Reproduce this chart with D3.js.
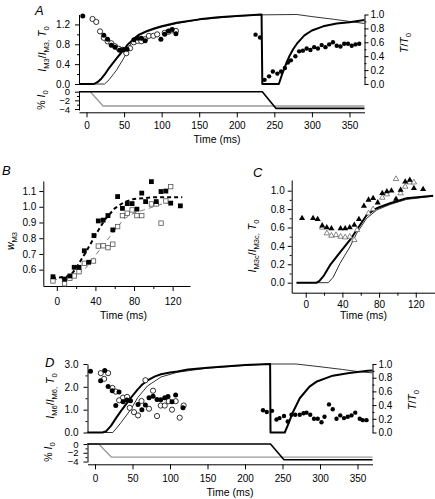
<!DOCTYPE html>
<html><head><meta charset="utf-8">
<script src="https://cdn.jsdelivr.net/npm/d3@7"></script>
<style>
body{margin:0;background:#fff;}
svg{display:block;font-family:"Liberation Sans",Arial,Helvetica,sans-serif;}
</style></head><body>
<svg id="c" width="435" height="499"></svg>
<script>
// ---------- Panel A ----------
const aThickT = [-10,10,15,20,25,30,40,50,55,60,65,70,80,90,100,120,150,175,200,233,234,256,260,265,270,275,280,290,300,315,333,350,370];
const aThickV = [0,0,0.03,0.08,0.15,0.23,0.37,0.5,0.57,0.62,0.67,0.71,0.76,0.8,0.83,0.88,0.93,0.96,0.98,1.0,0,0,0.13,0.27,0.4,0.5,0.58,0.7,0.77,0.83,0.87,0.89,0.92];
const aThinT = [-10,24,30,40,50,55,60,65,70,80,100,120,150,200,233,280,300,330,350,370];
const aThinV = [0,0,0.06,0.2,0.38,0.49,0.6,0.66,0.7,0.75,0.82,0.87,0.925,0.975,0.995,1.0,0.97,0.93,0.9,0.87];
const aOpenT = [8,13,18,23,28,33,38,43,48,53,58,63,68,73,78,83,89,94,104,109,114,119];
const aOpenV = [1.31,1.25,1.06,0.93,0.86,0.82,0.76,0.71,0.69,0.62,0.72,0.84,0.87,0.86,0.9,0.97,0.97,1.0,1.03,1.05,1.08,1.07];
const aFillT = [-5,23,28,33,38,44,49,54,63,68,73,78,99,104,109,114,119];
const aFillV = [1.37,0.98,0.9,0.78,0.74,0.68,0.69,0.7,0.89,0.92,0.92,0.87,0.9,1.0,1.07,1.1,1.01];
const aFill2T = [225,231,237,243,248,254,259,264,268,272,278,283,288,293,298,303,308,313,318,323,328,333,338,343,348,353,358,363];
const aFill2V = [0.71,0.67,0.06,0.11,0.18,0.15,0.18,0.23,0.31,0.34,0.40,0.47,0.48,0.51,0.49,0.53,0.51,0.56,0.53,0.57,0.60,0.55,0.54,0.58,0.58,0.55,0.57,0.58];
const aStepT = [-10,234,252,370];
const aStepV = [0,0,-3.85,-3.85];
const aRampT = [-10,5,22,370];
const aRampV = [0,0,-3.3,-3.3];
// ---------- Panel B ----------
const bFillT = [-4,8,13.5,18,23,28.5,33,38.5,43,48,53,58,63,68,73,78,83,88,92,98,103,108,113,118,128];
const bFillV = [0.555,0.54,0.56,0.615,0.615,0.72,0.647,0.817,0.91,0.915,0.944,0.853,1.065,0.99,1.02,1.02,0.985,1.087,1.033,1.16,1.033,1.097,1.1,1.023,1.006];
const bOpenT = [-4,8,13.5,18,23,28.5,38,43,48,53,58,63,68,73,78,83,88,98,103,108,113,118];
const bOpenV = [0.528,0.51,0.545,0.56,0.587,0.64,0.655,0.75,0.752,0.74,0.762,0.874,0.944,0.959,0.98,0.944,0.944,1.018,1.018,0.896,1.037,1.128];
const bThickT = [-5,10,15,20,30,40,50,60,70,80,100,130];
const bThickV = [0.545,0.555,0.57,0.61,0.71,0.82,0.92,0.99,1.03,1.05,1.06,1.06];
const bThinT = [-5,10,20,30,40,50,60,70,80,90,100,110,120];
const bThinV = [0.535,0.545,0.565,0.61,0.69,0.77,0.85,0.925,0.96,0.98,1.0,1.02,1.03];
// ---------- Panel C ----------
const cFillT = [-4,8,13,18,23,28,38,43,48,53,58,63.5,68.5,73.5,78.5,83.5,88.5,93.5,98.5,103.5,108.5,113.5,118,128];
const cFillV = [0.70,0.70,0.69,0.62,0.60,0.59,0.59,0.59,0.60,0.627,0.69,0.834,0.90,0.917,0.87,0.972,0.99,1.0,0.91,1.008,1.098,1.116,1.026,1.015];
const cOpenT = [18,23,28,33,38,43,48,53,56,68.5,73.5,83.5,88.5,98.5,103.5,108.5,113.5,118];
const cOpenV = [0.6,0.537,0.511,0.518,0.5,0.493,0.5,0.464,0.573,0.754,0.798,0.924,0.961,1.127,0.972,1.044,1.09,1.09];
const cThickT = [-10,12,15,20,26.5,37.4,48.3,55.6,66.5,77.4,92,110,139];
const cThickV = [0,0,0.02,0.08,0.19,0.33,0.464,0.573,0.736,0.809,0.863,0.917,0.946];
const cThinT = [-10,24.7,30,37.4,48.3,55.6,66.5,77.4,92,110,139];
const cThinV = [0,0,0.06,0.21,0.39,0.537,0.7,0.79,0.85,0.905,0.94];
// ---------- Panel D ----------
const dThickT = [-10,10,15,21.5,28,35,42,48,57,63,70,80,88,100,110,124,150,200,233.5,234,253,258,264,273,286,295,317,339,364,370];
const dThickV = [0,0,0.02,0.1,0.21,0.32,0.42,0.51,0.63,0.7,0.76,0.82,0.85,0.875,0.89,0.92,0.945,0.985,1.0,0,0,0.13,0.3,0.5,0.67,0.74,0.83,0.87,0.9,0.905];
const dThinT = [-10,23.7,30,35,48,57,70,88,110,150,200,233,268,300,330,350,370];
const dThinV = [0,0,0.08,0.15,0.34,0.51,0.68,0.81,0.88,0.94,0.98,1.0,1.0,0.96,0.92,0.89,0.87];
const dFillT = [-6,7.5,13,17.5,23,27.7,32,37.4,42.5,47.3,57.4,62.5,67.2,72,77.4,82.7,87.6,93,97.3,102.7,107.5,117.3];
const dFillV = [2.68,2.27,2.72,2.01,1.83,1.18,1.77,1.35,1.42,1.39,1.23,1.0,1.2,1.52,1.59,1.45,1.43,1.52,1.58,1.35,1.64,1.08];
const dOpenT = [7.7,12.2,17.5,23.2,27.7,32.2,37.4,42.8,46.3,52,57.4,62,67.2,72,77.4,82.7,87.6,93,98.3,102.7,107.6,112.9,118.2];
const dOpenV = [2.6,2.35,2.6,1.95,1.79,1.41,1.53,1.56,1.08,0.89,0.75,1.38,2.29,1.04,1.83,0.72,1.18,1.18,1.37,1.0,1.37,0.65,1.18];
const dFill2T = [224,229,236,242,246,252,257,262,267,273,278,282,287,292,297,302,306,312,317,322,327,332,337,342,347,353,357,362];
const dFill2V = [0.325,0.30,0.316,0.19,0.21,0.24,0.16,0.26,0.26,0.26,0.28,0.29,0.26,0.20,0.20,0.15,0.23,0.41,0.34,0.20,0.25,0.21,0.23,0.25,0.29,0.20,0.18,0.18];
const dStepT = [-10,234,252,370];
const dStepV = [0,0,-3.6,-3.6];
const dRampT = [-10,5,22,370];
const dRampV = [0,0,-3.0,-3.0];
// tick values
const timeTicksLong = [0,50,100,150,200,250,300,350];
const timeTicksShort = [0,40,80,120];
const timeMinorShort = [20,60,100];
const ratioTicks = [0,0.2,0.4,0.6,0.8,1.0];
const ratioMinor = [0.1,0.3,0.5,0.7,0.9];
const currTicks = [0,-2,-4];
const currMinor = [-1,-3];

const FONT = '"Liberation Sans", Arial, Helvetica, sans-serif';
const svg = d3.select("#c");
const fmtMinus = s => s.replace("-", "\u2212");

function axis(orient, scale, pos, major, minor, fmt, majLen, pad, fs) {
  const mk = orient === "left" ? d3.axisLeft : orient === "right" ? d3.axisRight : d3.axisBottom;
  const tr = orient === "bottom" ? `translate(0,${pos})` : `translate(${pos},0)`;
  const a = svg.append("g").attr("transform", tr)
    .call(mk(scale).tickValues(major).tickSize(majLen).tickSizeOuter(0).tickPadding(pad).tickFormat(fmt));
  a.attr("font-family", FONT).attr("font-size", fs || 10);
  a.selectAll("text").attr("fill", "#000");
  a.selectAll("line,path").attr("stroke", "#000").attr("stroke-width", 1);
  if (minor && minor.length) {
    const m = svg.append("g").attr("transform", tr)
      .call(mk(scale).tickValues(minor).tickSize(Math.max(2, majLen - 2)).tickSizeOuter(0).tickFormat(""));
    m.select(".domain").remove();
    m.selectAll("line").attr("stroke", "#000");
  }
}
function curve(x, y, T, V, width, color, dash) {
  const line = d3.line().x(d => x(d[0])).y(d => y(d[1]));
  const p = svg.append("path").datum(d3.zip(T, V)).attr("d", line)
    .attr("fill", "none").attr("stroke", color).attr("stroke-width", width)
    .attr("stroke-linejoin", "round");
  if (dash) p.attr("stroke-dasharray", dash);
}
function circles(x, y, T, V, r, filled) {
  svg.append("g").selectAll("circle").data(d3.zip(T, V)).join("circle")
    .attr("cx", d => x(d[0])).attr("cy", d => y(d[1])).attr("r", r)
    .attr("fill", filled ? "#000" : "#fff").attr("stroke", "#000").attr("stroke-width", filled ? 0 : 0.8);
}
function squares(x, y, T, V, s, filled) {
  svg.append("g").selectAll("rect").data(d3.zip(T, V)).join("rect")
    .attr("x", d => x(d[0]) - s / 2).attr("y", d => y(d[1]) - s / 2).attr("width", s).attr("height", s)
    .attr("fill", filled ? "#000" : "#fff").attr("stroke", filled ? "none" : "#555").attr("stroke-width", 0.8);
}
function triangles(x, y, T, V, s, filled) {
  const sym = d3.symbol().type(d3.symbolTriangle).size(s);
  svg.append("g").selectAll("path").data(d3.zip(T, V)).join("path")
    .attr("transform", d => `translate(${x(d[0])},${y(d[1])})`).attr("d", sym)
    .attr("fill", filled ? "#000" : "#fff").attr("stroke", filled ? "none" : "#555").attr("stroke-width", 0.7);
}
function vlabel(x, y, parts, size) {
  const t = svg.append("text").attr("transform", `translate(${x},${y}) rotate(-90)`)
    .attr("text-anchor", "middle").attr("font-size", size).attr("font-family", FONT);
  let sub = false;
  parts.forEach(([s, k]) => {
    const ts = t.append("tspan").text(s);
    if (k === "s") { ts.attr("font-size", size * 0.72); if (!sub) ts.attr("dy", 3); sub = true; }
    else { if (sub) ts.attr("dy", -3); sub = false; if (k === "i") ts.attr("font-style", "italic"); }
  });
}
function hlabel(x, y, s, size, italic, anchor) {
  svg.append("text").attr("x", x).attr("y", y).attr("font-size", size).attr("font-family", FONT)
    .attr("text-anchor", anchor || "middle").attr("font-style", italic ? "italic" : "normal").text(s);
}
const f1 = d3.format(".1f");

// ===== Panel A =====
{
  const x = d3.scaleLinear().domain([-10, 370]).range([79, 364.5]);
  const yL = d3.scaleLinear().domain([0, 1.4]).range([84, 14.5]);
  const yR = d3.scaleLinear().domain([0, 1.0]).range([84, 14.5]);
  const yC = d3.scaleLinear().domain([-4.23, 0.23]).range([110, 90.7]);
  axis("left", yL, 79, [0, 0.4, 0.8, 1.2], [0.2, 0.6, 1.0], f1, 4, 5);
  axis("right", yR, 364.5, ratioTicks, ratioMinor, f1, 4, 2);
  axis("left", yC, 79, currTicks, currMinor, d => fmtMinus(String(d)), 4, 5, 9.5);
  axis("bottom", x, 112.3, timeTicksLong, [], d => d, 5, 5);
  curve(x, yR, aThinT, aThinV, 0.8, "#000");
  curve(x, yR, aThickT, aThickV, 2, "#000");
  curve(x, yC, aRampT, aRampV, 1.3, "#999");
  curve(x, yC, aStepT, aStepV, 1.6, "#000");
  circles(x, yL, aOpenT, aOpenV, 2.6, false);
  circles(x, yL, aFillT, aFillV, 2.5, true);
  circles(x, yR, aFill2T, aFill2V, 2.2, true);
  vlabel(45.5, 49, [["I", "i"], ["M3", "s"], ["/", "n"], ["I", "i"], ["M3,", "s"], [" T", "i"], ["0", "s"]], 10.5);
  vlabel(407.5, 43, [["T", "i"], ["/", "n"], ["T", "i"], ["0", "s"]], 10.5);
  vlabel(45, 100, [["% ", "n"], ["I", "i"], ["0", "s"]], 10.5);
  hlabel(217, 143, "Time (ms)", 10.5);
  hlabel(35, 15, "A", 13, true, "start");
}
// ===== Panel B =====
{
  const x = d3.scaleLinear().domain([-14, 138]).range([43.3, 190]);
  const y = d3.scaleLinear().domain([0.496, 1.164]).range([286, 181]);
  axis("left", y, 43.3, [0.6, 0.7, 0.8, 0.9, 1.0, 1.1], [], f1, 4, 3);
  axis("bottom", x, 286, timeTicksShort, timeMinorShort, d => d, 5, 7);
  curve(x, y, bThinT, bThinV, 0.8, "#555", "5,4");
  curve(x, y, bThickT, bThickV, 2, "#000", "4,3");
  squares(x, y, bOpenT, bOpenV, 4.4, false);
  squares(x, y, bFillT, bFillV, 4.8, true);
  vlabel(14, 241, [["w", "i"], ["M3", "s"]], 10.5);
  hlabel(123.5, 319, "Time (ms)", 10.5);
  hlabel(2, 175, "B", 13, true, "start");
}
// ===== Panel C =====
{
  const x = d3.scaleLinear().domain([-15.3, 141]).range([291.7, 435]);
  const y = d3.scaleLinear().domain([-0.109, 1.116]).range([292.7, 180]);
  axis("left", y, 291.7, ratioTicks, ratioMinor, f1, 4, 3);
  axis("bottom", x, 292.7, timeTicksShort, timeMinorShort, d => d, 5, 3);
  curve(x, y, cThinT, cThinV, 0.8, "#000");
  curve(x, y, cThickT, cThickV, 2, "#000");
  triangles(x, y, cOpenT, cOpenV, 13, false);
  triangles(x, y, cFillT, cFillV, 16, true);
  vlabel(255.5, 246, [["I", "i"], ["M3c", "s"], ["/", "n"], ["I", "i"], ["M3c,", "s"], [" T", "i"], ["0", "s"]], 10.5);
  hlabel(363.5, 319, "Time (ms)", 10.5);
  hlabel(253, 176.5, "C", 13, true, "start");
}
// ===== Panel D =====
{
  const x = d3.scaleLinear().domain([-10, 370]).range([87.5, 372.5]);
  const yL = d3.scaleLinear().domain([0, 3]).range([432.5, 364]);
  const yR = d3.scaleLinear().domain([0, 1]).range([432.5, 364]);
  const yC = d3.scaleLinear().domain([-4.1, 0.3]).range([462, 442.7]);
  axis("left", yL, 87.5, [0, 1, 2, 3], [0.5, 1.5, 2.5], f1, 4, 5);
  axis("right", yR, 372.5, ratioTicks, ratioMinor, f1, 4, 2);
  axis("left", yC, 87.5, currTicks, currMinor, d => fmtMinus(String(d)), 4, 5, 9.5);
  axis("bottom", x, 464.3, timeTicksLong, [], d => d, 5, 6);
  curve(x, yR, dThinT, dThinV, 0.8, "#000");
  curve(x, yR, dThickT, dThickV, 2, "#000");
  curve(x, yC, dRampT, dRampV, 1.3, "#999");
  curve(x, yC, dStepT, dStepV, 1.6, "#000");
  circles(x, yL, dOpenT, dOpenV, 2.6, false);
  circles(x, yL, dFillT, dFillV, 2.5, true);
  circles(x, yR, dFill2T, dFill2V, 2.2, true);
  vlabel(54, 396, [["I", "i"], ["M6", "s"], ["/", "n"], ["I", "i"], ["M6,", "s"], [" T", "i"], ["0", "s"]], 10.5);
  vlabel(416, 400, [["T", "i"], ["/", "n"], ["T", "i"], ["0", "s"]], 10.5);
  vlabel(52, 452, [["% ", "n"], ["I", "i"], ["0", "s"]], 10.5);
  hlabel(230, 496, "Time (ms)", 10.5);
  hlabel(45, 366.5, "D", 13, true, "start");
}
</script>
</body></html>
